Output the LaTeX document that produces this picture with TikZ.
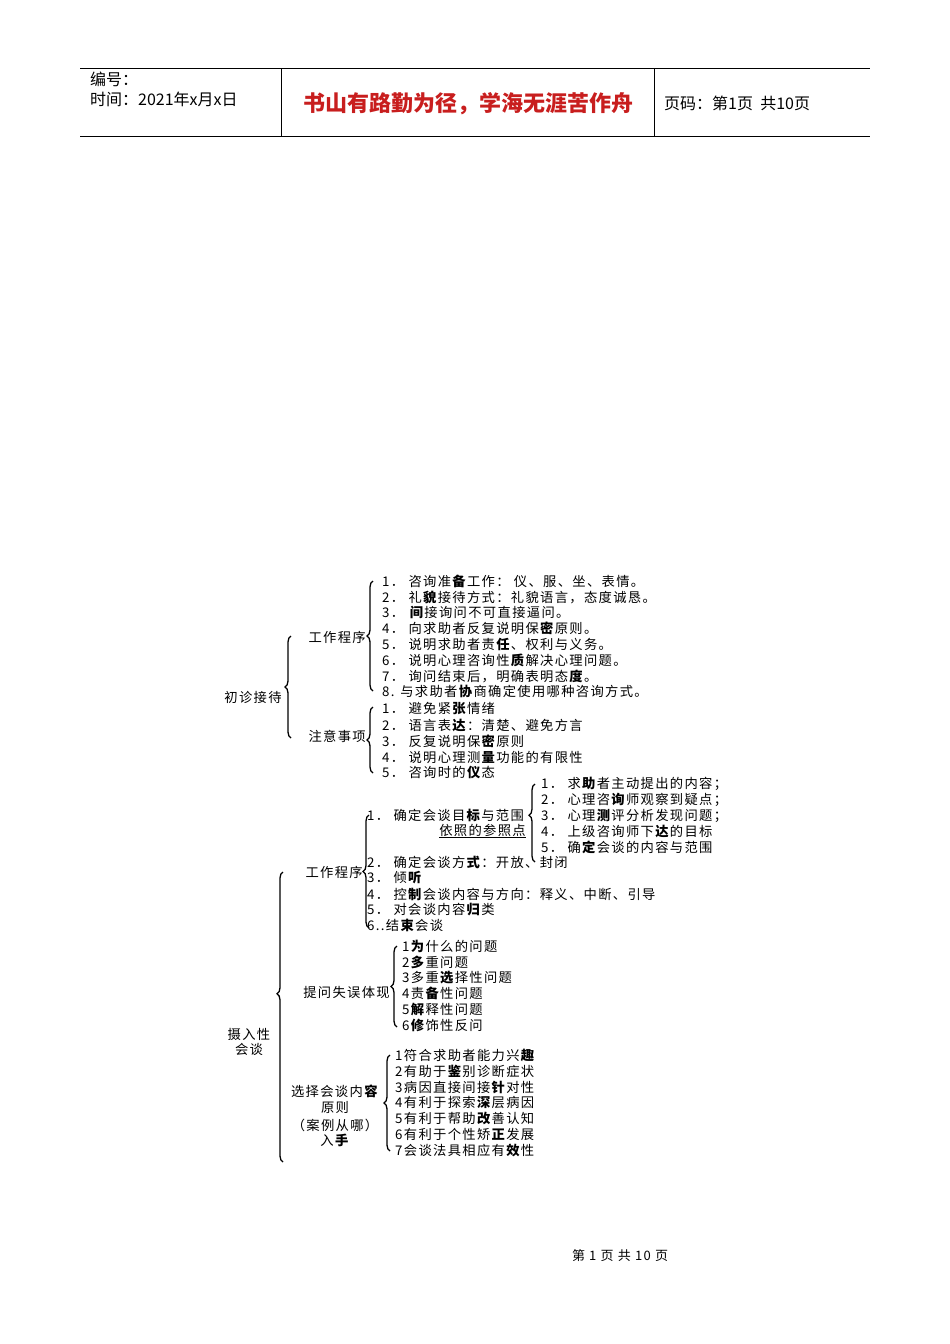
\documentclass[tikz,border=0pt]{standalone}
\usepackage{fontspec}
\setmainfont{Noto Sans CJK SC}[LetterSpace=10]
\newfontfamily\hdfont{Noto Sans CJK SC}
\usetikzlibrary{decorations.pathreplacing}
\newcommand{\bx}[1]{\textbf{#1}}
\definecolor{titlered}{RGB}{200,30,30}
\begin{document}
\begin{tikzpicture}[x=1pt,y=-1pt,
  t/.style={anchor=west,inner sep=0pt,font=\fontsize{13.3}{15.7}\selectfont},
  tr/.style={anchor=east,inner sep=0pt,font=\fontsize{13.3}{15.7}\selectfont},
  tc/.style={inner sep=0pt,font=\fontsize{13.3}{15.7}\selectfont,align=center},
  br/.style={decorate,decoration={brace,amplitude=6pt,aspect=#1},line width=1.3pt},
  br/.default=0.5]
\useasboundingbox (0,0) rectangle (950,1344);
% header
\draw[line width=0.6pt] (80,68) -- (870,68) (80,136) -- (870,136) (281,68) -- (281,136) (654,68) -- (654,136);
\node[t,font=\hdfont\fontsize{16}{18}\selectfont] (h1) at (90,79) {编号：};
\node[t,font=\hdfont\fontsize{16}{18}\selectfont] (h2) at (90,99) {时间：2021年x月x日};
\node[inner sep=0pt,font=\hdfont\fontsize{22}{24}\selectfont\bfseries,text=titlered] (h3) at (468,104) {书山有路勤为径，学海无涯苦作舟};
\node[t,font=\hdfont\fontsize{16}{18}\selectfont] (h4) at (664,103) {页码：第1页\ \ 共10页};
\node[inner sep=0pt,font=\fontsize{13}{14}\selectfont] (foot) at (620,1256) {第\ 1\ 页\ 共\ 10\ 页};
% group 1
\node[tc] (a0) at (253,697) {初诊接待};
\node[tr] (a1) at (366,637) {工作程序};
\node[tr] (a2) at (366,736) {注意事项};
\draw[br] (291,738) -- (291,636);
\draw[br] (373,691) -- (373,581);
\draw[br] (373,773) -- (373,707);
\foreach \y/\s [count=\i] in {581/{1．\ 咨询准\bx{备}工作：\ 仪、服、坐、表情。},597/{2．\ 礼\bx{貌}接待方式：礼貌语言，态度诚恳。},612/{3．\ \bx{间}接询问不可直接逼问。},628/{4．\ 向求助者反复说明保\bx{密}原则。},644/{5．\ 说明求助者责\bx{任}、权利与义务。},660/{6．\ 说明心理咨询性\bx{质}解决心理问题。},676/{7．\ 询问结束后，明确表明态\bx{度}。},691/{8. 与求助者\bx{协}商确定使用哪种咨询方式。}}
  \node[t] (p\i) at (382,\y) {\s};
\foreach \y/\s [count=\i] in {709/{1．\ 避免紧\bx{张}情绪},725/{2．\ 语言表\bx{达}：清楚、避免方言},741/{3．\ 反复说明保\bx{密}原则},757/{4．\ 说明心理测\bx{量}功能的有限性},772/{5．\ 咨询时的\bx{仪}态}}
  \node[t] (n\i) at (382,\y) {\s};
% group 2
\node[tc] (b0) at (249,1042) {摄入性\\会谈};
\draw[br=0.58] (283,1162) -- (283,872);
\node[tr] (b1) at (363,872) {工作程序};
\draw[br] (369,928) -- (369,815);
\node[t] (w1) at (367,815) {1．\ 确定会谈目\bx{标}与范围};
\node[tr] (w1b) at (526,831) {\underline{依照的参照点}};
\draw[br=0.6] (535,862) -- (535,784);
\foreach \y/\s [count=\i] in {784/{1．\ 求\bx{助}者主动提出的内容；},800/{2．\ 心理咨\bx{询}师观察到疑点；},816/{3．\ 心理\bx{测}评分析发现问题；},831/{4．\ 上级咨询师下\bx{达}的目标},847/{5．\ 确\bx{定}会谈的内容与范围}}
  \node[t] (r\i) at (541,\y) {\s};
\foreach \y/\s [count=\i] in {862/{2．\ 确定会谈方\bx{式}：开放、封闭},878/{3．\ 倾\bx{听}},894/{4．\ 控\bx{制}会谈内容与方向：释义、中断、引导},910/{5．\ 对会谈内容\bx{归}类},925/{6..结\bx{束}会谈}}
  \node[t] (w\i x) at (367,\y) {\s};
\node[tr] (b2) at (390,992) {提问失误体现};
\draw[br] (397,1027) -- (397,946);
\foreach \y/\s [count=\i] in {946/{1\bx{为}什么的问题},962/{2\bx{多}重问题},978/{3多重\bx{选}择性问题},993/{4责\bx{备}性问题},1009/{5\bx{解}释性问题},1025/{6\bx{修}饰性反问}}
  \node[t] (q\i) at (402,\y) {\s};
\node[tc] (b3) at (335,1099) {选择会谈内\bx{容}\\原则};
\node[tc] (b3b) at (335,1133) {（案例从哪）\\入\bx{手}};
\draw[br] (390,1151) -- (390,1055);
\foreach \y/\s [count=\i] in {1055/{1符合求助者能力兴\bx{趣}},1071/{2有助于\bx{鉴}别诊断症状},1087/{3病因直接间接\bx{针}对性},1102/{4有利于探索\bx{深}层病因},1118/{5有利于帮助\bx{改}善认知},1134/{6有利于个性矫\bx{正}发展},1150/{7会谈法具相应有\bx{效}性}}
  \node[t] (c\i) at (395,\y) {\s};
\end{tikzpicture}
\end{document}
